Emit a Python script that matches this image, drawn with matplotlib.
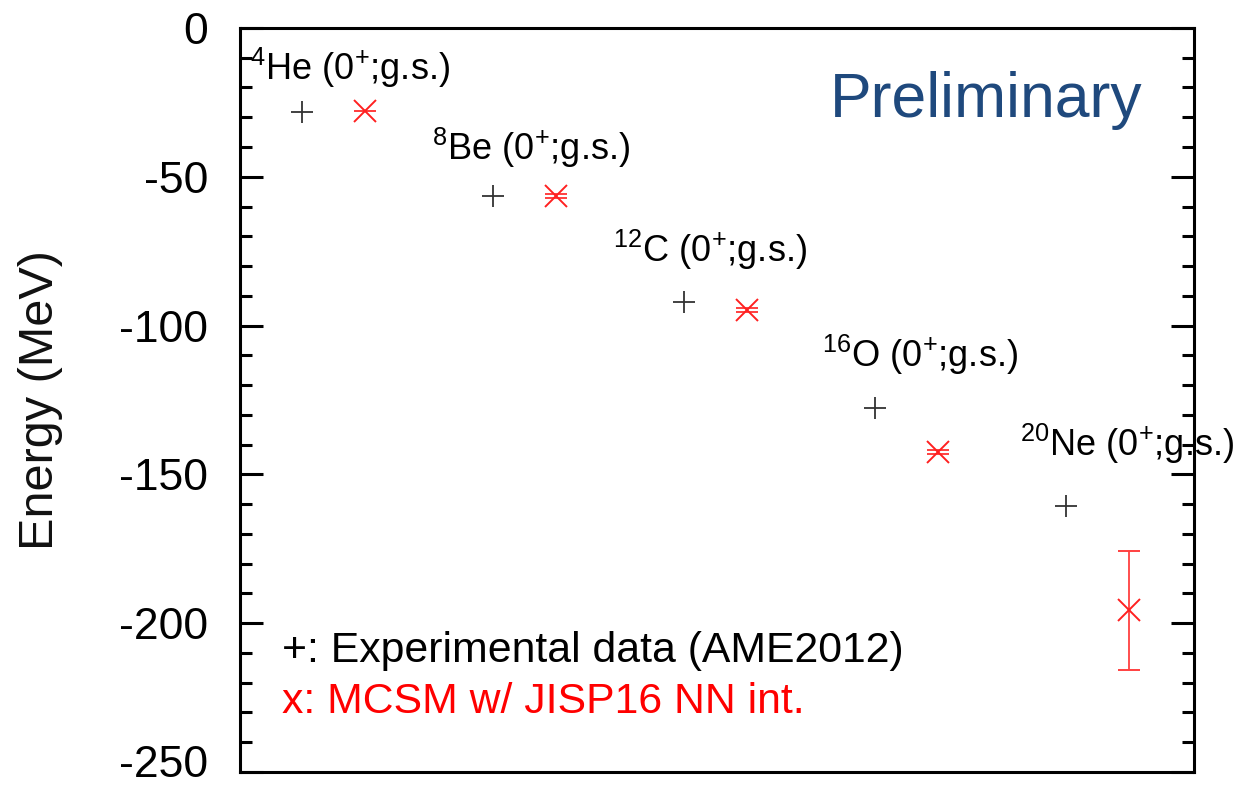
import numpy as np
import matplotlib
matplotlib.use('Agg')
import matplotlib.pyplot as plt
from matplotlib.ticker import MultipleLocator, FuncFormatter

plt.rcParams['font.family'] = ['Liberation Sans', 'DejaVu Sans']
plt.rcParams['mathtext.default'] = 'regular'
plt.rcParams['axes.unicode_minus'] = False

# ground state energies (MeV)
nuclei = ['4He', '8Be', '12C', '16O', '20Ne']
labels = [r'$^{4}$He (0$^{+}$;g.s.)', r'$^{8}$Be (0$^{+}$;g.s.)', r'$^{12}$C (0$^{+}$;g.s.)',
          r'$^{16}$O (0$^{+}$;g.s.)', r'$^{20}$Ne (0$^{+}$;g.s.)']
exp_energy = [-28.3, -56.5, -92.2, -127.6, -160.6]
mcsm_energy = [-28.0, -56.5, -94.8, -142.5, -195.6]
mcsm_err = [0.0, 0.6, 0.6, 0.7, 20.0]
ymin, ymax = -250, 0

x = np.arange(1, len(nuclei) + 1)

fig = plt.figure(figsize=(12.35, 7.9), dpi=100)
ax = fig.add_axes([0.1943, 0.0228, 0.7725, 0.9418])

ax.plot(x, exp_energy, ls='none', marker='+', ms=16, mew=1.3, color='#333333')
ax.errorbar(x + 0.33, mcsm_energy, yerr=mcsm_err, ls='none', marker='x', ms=16, mew=1.4,
            color='#ff2020', ecolor='#ff4040', elinewidth=1.3, capsize=8, capthick=1.3)

# nucleus labels (baseline positions)
lab_x = [0.727, 1.68, 2.628, 3.72, 4.759]
lab_y = [-17.5, -44.4, -78.6, -113.9, -143.8]
for lx, ly, t in zip(lab_x, lab_y, labels):
    ax.text(lx, ly, t, fontsize=26, va='baseline', ha='left')

ax.text(0.9465, 0.880, 'Preliminary', transform=ax.transAxes, fontsize=45,
        color='#1f497d', ha='right', va='baseline')
ax.text(0.044, 0.148, '+: Experimental data (AME2012)', transform=ax.transAxes,
        fontsize=30.8, color='black', va='baseline')
ax.text(0.044, 0.079, 'x: MCSM w/ JISP16 NN int.', transform=ax.transAxes,
        fontsize=30.8, color='red', va='baseline')

ax.set_xlim(0.675, 5.67)
ax.set_ylim(ymin, ymax)
ax.yaxis.set_major_locator(MultipleLocator(50))
ax.yaxis.set_minor_locator(MultipleLocator(10))
# bottom label drawn separately, nudged up so it stays inside the figure
ax.yaxis.set_major_formatter(FuncFormatter(lambda v, p: '' if v <= ymin else f'{v:.0f}'))
ax.set_xticks([])
ax.tick_params(axis='y', which='major', direction='in', length=16.5, width=2.2,
               left=True, right=True, labelsize=32, pad=23)
ax.tick_params(axis='y', which='minor', direction='in', length=8.5, width=2.2,
               left=True, right=True)
ax.annotate(f'{ymin}', xy=(0, ymin), xycoords=('axes fraction', 'data'),
            xytext=(-23, 5), textcoords='offset points', ha='right', va='center',
            fontsize=32, annotation_clip=False)
for s in ax.spines.values():
    s.set_linewidth(2.2)
ax.set_ylabel('Energy (MeV)', fontsize=35, color='#111111')
ax.yaxis.set_label_coords(-0.186, 0.5)

fig.savefig('out.png', dpi=100)
